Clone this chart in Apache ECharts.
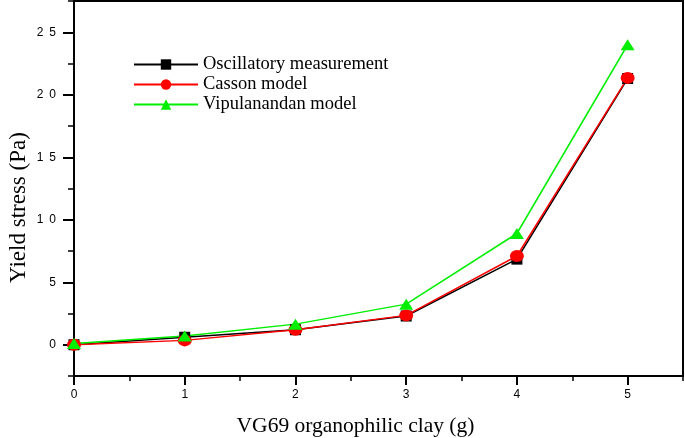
<!DOCTYPE html>
<html>
<head>
<meta charset="utf-8">
<script src="https://cdn.jsdelivr.net/npm/echarts@6/dist/echarts.min.js"></script>
<style>html,body{margin:0;padding:0;background:#fff}#c{width:685px;height:438px}</style>
</head>
<body>
<div id="c"></div>
<script>
const clay = [0, 1, 2, 3, 4, 5];
const oscillatory = [0.0, 0.6, 1.2, 2.3, 6.85, 21.3];
const casson = [0.0, 0.35, 1.2, 2.35, 7.1, 21.35];
const vipulanandan = [0.1, 0.7, 1.65, 3.25, 8.9, 24.0];
const yMajorTicks = [0, 5, 10, 15, 20, 25];
const xMajorTicks = [0, 1, 2, 3, 4, 5];

const pairs = arr => clay.map((x, i) => [x, arr[i]]);
const serif = 'Liberation Serif';
const sans = 'Liberation Sans';

const chart = echarts.init(document.getElementById('c'), null, {renderer: 'canvas'});
chart.setOption({
  animation: false,
  backgroundColor: '#fff',
  grid: {left: 74, right: 2, top: 1, bottom: 62, show: true, borderColor: '#000', borderWidth: 2,
    containLabel: false, outerBoundsMode: 'none'},
  legend: {
    orient: 'vertical', left: 128, top: 50, itemWidth: 64, itemHeight: 13, itemGap: 1,
    textStyle: {fontFamily: serif, fontSize: 18.5, color: '#000'},
    data: ['Oscillatory measurement', 'Casson model', 'Vipulanandan model']
  },
  xAxis: [{
    type: 'value', min: 0, max: 5.5, interval: 0.5,
    name: 'VG69 organophilic clay (g)', nameLocation: 'middle', nameGap: 39,
    nameTextStyle: {fontFamily: serif, fontSize: 21.5, color: '#000', padding: [0, 46, 0, 0]},
    axisLine: {show: true, onZero: false, lineStyle: {color: '#000', width: 2}},
    axisTick: {show: true, length: 9, inside: false, lineStyle: {color: '#000', width: 2}, customValues: xMajorTicks},
    axisLabel: {fontFamily: sans, fontSize: 12, color: '#000', margin: 13, customValues: xMajorTicks, formatter: v => String(v)},
    splitLine: {show: false}
  }, {
    type: 'value', min: 0, max: 5.5, interval: 0.5, position: 'bottom',
    axisLine: {show: false, onZero: false}, axisLabel: {show: false}, splitLine: {show: false},
    axisTick: {show: true, length: 5, lineStyle: {color: '#000', width: 1.5}}
  }],
  yAxis: [{
    type: 'value', min: -2.5, max: 27.5, interval: 2.5,
    name: 'Yield stress (Pa)', nameLocation: 'middle', nameGap: 44, nameRotate: 90, nameMoveOverlap: false,
    nameTextStyle: {fontFamily: serif, fontSize: 23, color: '#000', padding: [0, 38, 0, 0]},
    axisLine: {show: true, onZero: false, lineStyle: {color: '#000', width: 2}},
    axisTick: {show: true, length: 11, lineStyle: {color: '#000', width: 2}, customValues: yMajorTicks},
    axisLabel: {fontFamily: sans, fontSize: 12, color: '#000', margin: 18, customValues: yMajorTicks,
      formatter: v => String(v).split('').join('\u2002')},
    splitLine: {show: false}
  }, {
    type: 'value', min: -2.5, max: 27.5, interval: 2.5, position: 'left',
    axisLine: {show: false, onZero: false}, axisLabel: {show: false}, splitLine: {show: false},
    axisTick: {show: true, length: 6, lineStyle: {color: '#000', width: 1.5}}
  }],
  series: [{
    name: 'Oscillatory measurement', type: 'line', data: pairs(oscillatory),
    symbol: 'rect', symbolSize: 11, color: '#000',
    lineStyle: {color: '#000', width: 1.5}, itemStyle: {color: '#000'}
  }, {
    name: 'Casson model', type: 'line', data: pairs(casson),
    symbol: 'circle', symbolSize: [14, 12], color: '#ff0000',
    lineStyle: {color: '#ff0000', width: 1.5}, itemStyle: {color: '#ff0000'}
  }, {
    name: 'Vipulanandan model', type: 'line', data: pairs(vipulanandan),
    symbol: 'triangle', symbolSize: [14, 11], color: '#00ee00',
    lineStyle: {color: '#00ee00', width: 1.5}, itemStyle: {color: '#00ee00'}
  }]
});
</script>
</body>
</html>
